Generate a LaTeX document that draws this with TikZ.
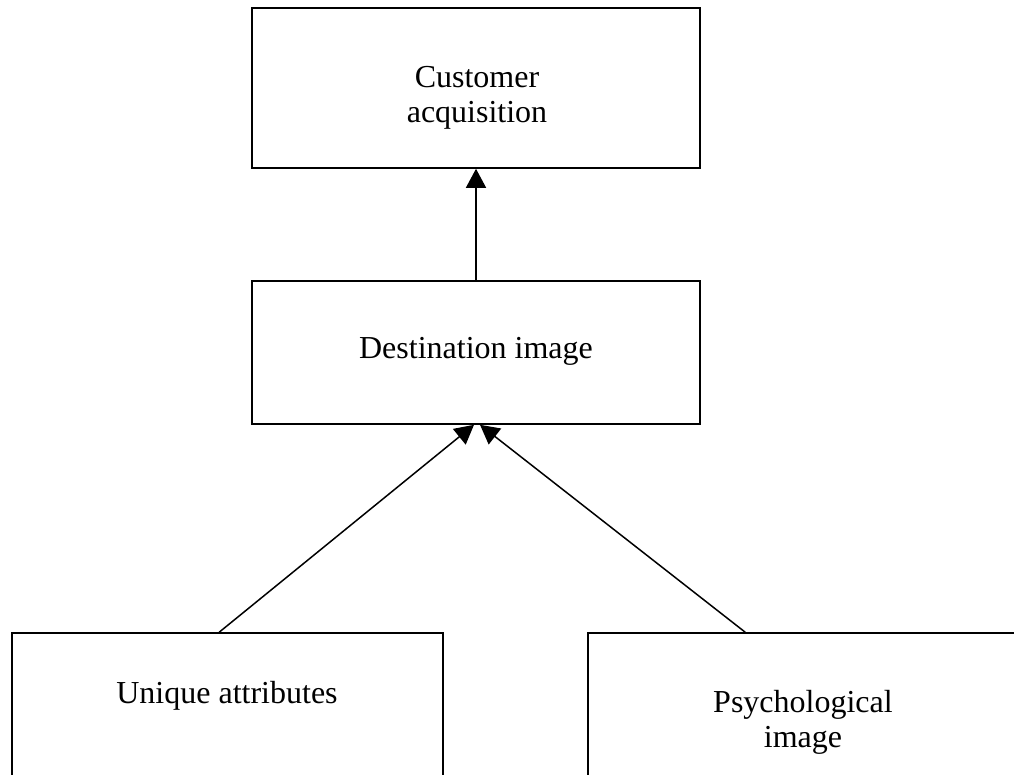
\documentclass[tikz,border=0pt]{standalone}
\usepackage{fontspec}
\setmainfont{Liberation Serif}
\usetikzlibrary{arrows.meta}

\begin{document}
\begin{tikzpicture}[x=1pt,y=-1pt,
  box/.style={draw=black, line width=1.6pt, minimum width=#1, inner sep=0pt},
  label/.style={inner sep=0pt, align=center, font=\fontsize{32}{35}\selectfont},
  arr/.style={line width=1.5pt, -{Triangle[length=19pt,width=20pt]}, shorten >=0pt}
]
  \useasboundingbox (0,0) rectangle (1014,774);
  \clip (0,0) rectangle (1014,774);

  % boxes
  \node[box=448pt, minimum height=160pt] (cust) at (476,88) {};
  \node[box=448pt, minimum height=143pt] (dest) at (476,352.5) {};
  \node[box=431pt, minimum height=180pt] (uniq) at (227.5,723) {};
  \node[box=431pt, minimum height=180pt] (psych) at (803.5,723) {};

  % texts
  \node[label] (custT) at (477,97.5) {Customer\\acquisition};
  \node[label, anchor=base] (destT) at (476,358.3) {Destination image};
  \node[label, anchor=base] (uniqT) at (227,703) {Unique attributes};
  \node[label] (psychT) at (803,722) {Psychological\\image};

  % connectors
  \draw[arr] (dest.north) -- (cust.south);
  \draw[arr] ([xshift=208pt]uniq.north west) -- ([xshift=-2pt]dest.south);
  \draw[arr] ([xshift=158pt]psych.north west) -- ([xshift=4pt]dest.south);
\end{tikzpicture}
\end{document}
